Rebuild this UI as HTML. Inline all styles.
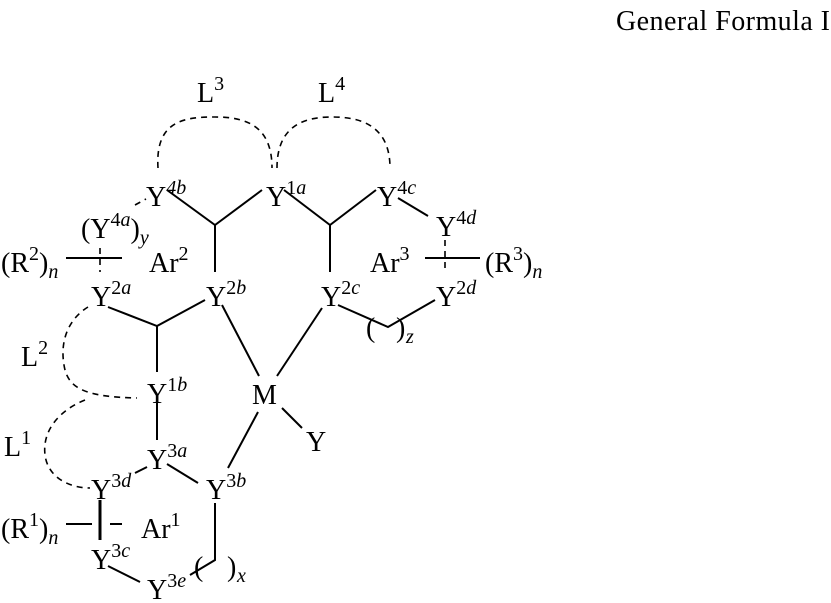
<!DOCTYPE html>
<html><head><style>
html,body{margin:0;padding:0;background:#fff;}
svg{display:block}
text{font-family:"Liberation Serif","DejaVu Serif",serif;font-size:28px;fill:#000}
.s{font-size:20px}
.i{font-style:italic}
</style></head><body>
<svg width="831" height="603" viewBox="0 0 831 603" xmlns="http://www.w3.org/2000/svg">
<text x="616" y="30" textLength="214">General Formula I</text>
<g stroke="#000" stroke-width="2" fill="none">
<path d="M167 190 L215 225 L262 190 M215 225 L215 272"/>
<path d="M284 190 L330 225 L376 190 M330 225 L330 272"/>
<path d="M108 307 L157 326 L205 300 M157 326 L157 372"/>
<path d="M157 402 L157 440"/>
<path d="M66 258 L122 258"/>
<path d="M425 258 L480 258"/>
<path d="M398 198 L428 216"/>
<path d="M338 305 L388 327 L435 300"/>
<path d="M222 305 L259 376 M322 308 L277 376 M258 412 L228 468 M282 408 L302 428"/>
<path d="M167 464 L198 483"/>
<path d="M147 467 L135 473"/>
<path d="M215 503 L215 560 L190 575"/>
<path d="M108 566 L140 582"/>
<path d="M66 524 L92 524 M110 524 L122 524"/>
<path d="M100 500 L100 540" stroke-width="3"/>
</g>
<g stroke="#000" stroke-width="1.6" fill="none" stroke-dasharray="6,5">
<path d="M158 168 C155 120 185 117 215 117 C245 117 272 125 272 168"/>
<path d="M277 168 C277 125 305 117 332 117 C360 117 390 125 390 168"/>
<path d="M100 248 L100 272"/>
<path d="M445 240 L445 272"/>
<path d="M135 205 L146 199"/>
<path d="M88 307 C70 318 58 340 65 370 C70 388 85 397 137 398"/>
<path d="M85 400 C60 410 42 430 45 455 C48 478 70 488 90 488"/>
</g>
<text x="197" y="102">L<tspan class="s" dy="-12">3</tspan></text>
<text x="318" y="102">L<tspan class="s" dy="-12">4</tspan></text>
<text x="146" y="206">Y<tspan class="s i" dy="-12">4b</tspan></text>
<text x="266" y="206">Y<tspan class="s" dy="-12">1</tspan><tspan class="s i">a</tspan></text>
<text x="377" y="206">Y<tspan class="s" dy="-12">4</tspan><tspan class="s i">c</tspan></text>
<text x="436" y="236">Y<tspan class="s" dy="-12">4</tspan><tspan class="s i">d</tspan></text>
<text x="81" y="238">(Y<tspan class="s" dy="-12">4</tspan><tspan class="s i">a</tspan><tspan dy="12">)</tspan><tspan class="s i" dy="6">y</tspan></text>
<text x="1" y="272">(R<tspan class="s" dy="-12">2</tspan><tspan dy="12">)</tspan><tspan class="s i" dy="6">n</tspan></text>
<text x="149" y="272">Ar<tspan class="s" dy="-12">2</tspan></text>
<text x="370" y="272">Ar<tspan class="s" dy="-12">3</tspan></text>
<text x="485" y="272">(R<tspan class="s" dy="-12">3</tspan><tspan dy="12">)</tspan><tspan class="s i" dy="6">n</tspan></text>
<text x="91" y="306">Y<tspan class="s" dy="-12">2</tspan><tspan class="s i">a</tspan></text>
<text x="206" y="306">Y<tspan class="s" dy="-12">2</tspan><tspan class="s i">b</tspan></text>
<text x="321" y="306">Y<tspan class="s" dy="-12">2</tspan><tspan class="s i">c</tspan></text>
<text x="436" y="306">Y<tspan class="s" dy="-12">2</tspan><tspan class="s i">d</tspan></text>
<text x="366" y="337">(</text><text x="396" y="337">)</text><text x="406" y="343" class="s i">z</text>
<text x="21" y="366">L<tspan class="s" dy="-12">2</tspan></text>
<text x="4" y="456">L<tspan class="s" dy="-12">1</tspan></text>
<text x="147" y="403">Y<tspan class="s" dy="-12">1</tspan><tspan class="s i">b</tspan></text>
<text x="252" y="404">M</text>
<text x="306" y="451">Y</text>
<text x="147" y="469">Y<tspan class="s" dy="-12">3</tspan><tspan class="s i">a</tspan></text>
<text x="91" y="499">Y<tspan class="s" dy="-12">3</tspan><tspan class="s i">d</tspan></text>
<text x="206" y="499">Y<tspan class="s" dy="-12">3</tspan><tspan class="s i">b</tspan></text>
<text x="1" y="538">(R<tspan class="s" dy="-12">1</tspan><tspan dy="12">)</tspan><tspan class="s i" dy="6">n</tspan></text>
<text x="141" y="538">Ar<tspan class="s" dy="-12">1</tspan></text>
<text x="91" y="569">Y<tspan class="s" dy="-12">3</tspan><tspan class="s i">c</tspan></text>
<text x="194" y="576">(</text><text x="227" y="576">)</text><text x="237" y="582" class="s i">x</text>
<text x="147" y="599">Y<tspan class="s" dy="-12">3</tspan><tspan class="s i">e</tspan></text>
</svg>
</body></html>
